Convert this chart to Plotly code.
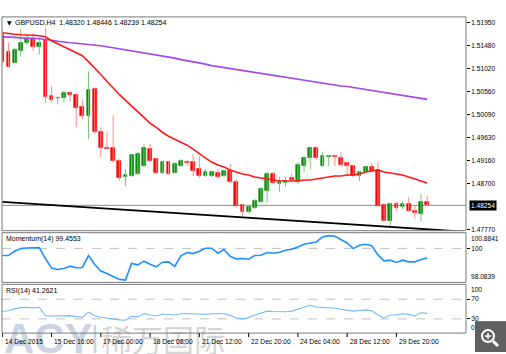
import plotly.graph_objects as go

W, H = 506, 354

# ---------------- data ----------------
opens = [1.51702, 1.51360, 1.51139, 1.51380, 1.51541, 1.51621, 1.51460, 1.51601, 1.50475, 1.50425,
         1.50435, 1.50536, 1.50496, 1.50234, 1.50053, 1.50616, 1.49732, 1.49420, 1.49410, 1.49149,
         1.48827, 1.48847, 1.48888, 1.49048, 1.49390, 1.49189, 1.48908, 1.49129, 1.48908, 1.49048,
         1.49129, 1.49129, 1.48988, 1.48847, 1.48847, 1.48908, 1.48847, 1.48948, 1.48727, 1.48264,
         1.48124, 1.48204, 1.48325, 1.48546, 1.48888, 1.48687, 1.48707, 1.48807, 1.48727, 1.49048,
         1.49209, 1.49410, 1.49048, 1.49229, 1.49249, 1.49209, 1.49109, 1.49048, 1.48847, 1.48928,
         1.49028, 1.48968, 1.48264, 1.47943, 1.48284, 1.48224, 1.48284, 1.48144, 1.48084, 1.48320]
highs = [1.51802, 1.51541, 1.51440, 1.51822, 1.51702, 1.51742, 1.51641, 1.51842, 1.50656, 1.50455,
         1.50576, 1.50556, 1.50516, 1.50395, 1.50958, 1.50636, 1.49832, 1.49732, 1.50073, 1.49189,
         1.48988, 1.49290, 1.49330, 1.49491, 1.49491, 1.49209, 1.49149, 1.49149, 1.49129, 1.49189,
         1.49169, 1.49290, 1.49249, 1.48988, 1.48948, 1.48988, 1.48968, 1.49089, 1.48787, 1.48284,
         1.48244, 1.48385, 1.48626, 1.48928, 1.48928, 1.48827, 1.48827, 1.48888, 1.49129, 1.49249,
         1.49430, 1.49450, 1.49330, 1.49270, 1.49270, 1.49330, 1.49129, 1.49069, 1.48948, 1.49048,
         1.49109, 1.49129, 1.48284, 1.48305, 1.48325, 1.48345, 1.48425, 1.48244, 1.48485, 1.48446]
lows = [1.51139, 1.51038, 1.51119, 1.51259, 1.51500, 1.51380, 1.51300, 1.50315, 1.50335, 1.50295,
        1.50335, 1.50355, 1.49832, 1.49993, 1.49591, 1.49692, 1.49229, 1.49390, 1.49129, 1.48747,
        1.48646, 1.48827, 1.48867, 1.49028, 1.49129, 1.48888, 1.48888, 1.48867, 1.48888, 1.49028,
        1.49048, 1.48847, 1.48807, 1.48827, 1.48827, 1.48787, 1.48827, 1.48707, 1.48224, 1.48043,
        1.48104, 1.48184, 1.48305, 1.48305, 1.48687, 1.48526, 1.48626, 1.48727, 1.48687, 1.48928,
        1.48988, 1.49169, 1.49028, 1.49048, 1.49048, 1.49048, 1.48847, 1.48827, 1.48747, 1.48908,
        1.48928, 1.48224, 1.47923, 1.47842, 1.48144, 1.48184, 1.48124, 1.47983, 1.47923, 1.48239]
closes = [1.51159, 1.51058, 1.51400, 1.51541, 1.51621, 1.51460, 1.51541, 1.50456, 1.50395, 1.50435,
          1.50536, 1.50496, 1.50214, 1.50053, 1.50596, 1.49732, 1.49410, 1.49400, 1.49149, 1.48807,
          1.48867, 1.49269, 1.49290, 1.49410, 1.49149, 1.48908, 1.49129, 1.48888, 1.49088, 1.49149,
          1.49109, 1.48948, 1.48847, 1.48928, 1.48928, 1.48827, 1.48948, 1.48727, 1.48245, 1.48124,
          1.48224, 1.48345, 1.48586, 1.48888, 1.48707, 1.48727, 1.48747, 1.48767, 1.49069, 1.49209,
          1.49410, 1.49209, 1.49249, 1.49249, 1.49229, 1.49069, 1.49048, 1.48847, 1.48928, 1.49028,
          1.48948, 1.48245, 1.47943, 1.48284, 1.48204, 1.48284, 1.48144, 1.48104, 1.48325, 1.48254]

ma_fast = [1.51742, 1.51722, 1.51712, 1.51702, 1.51702, 1.51691, 1.51681, 1.51661, 1.51581, 1.51521,
           1.51460, 1.51400, 1.51340, 1.51279, 1.51159, 1.51038, 1.50898, 1.50757, 1.50616, 1.50496,
           1.50375, 1.50254, 1.50134, 1.50033, 1.49913, 1.49832, 1.49732, 1.49651, 1.49591, 1.49531,
           1.49470, 1.49390, 1.49290, 1.49209, 1.49129, 1.49069, 1.49028, 1.48968, 1.48928, 1.48888,
           1.48867, 1.48827, 1.48807, 1.48787, 1.48767, 1.48747, 1.48747, 1.48747, 1.48747, 1.48767,
           1.48767, 1.48787, 1.48807, 1.48827, 1.48847, 1.48847, 1.48867, 1.48867, 1.48888, 1.48928,
           1.48948, 1.48968, 1.48928, 1.48908, 1.48888, 1.48867, 1.48827, 1.48787, 1.48747, 1.48707]
ma_slow = [1.51661, 1.51661, 1.51651, 1.51641, 1.51641, 1.51631, 1.51621, 1.51611, 1.51591, 1.51571,
           1.51551, 1.51541, 1.51531, 1.51521, 1.51511, 1.51500, 1.51480, 1.51460, 1.51440, 1.51420,
           1.51390, 1.51370, 1.51350, 1.51330, 1.51310, 1.51289, 1.51269, 1.51249, 1.51229, 1.51199,
           1.51179, 1.51159, 1.51139, 1.51109, 1.51078, 1.51058, 1.51038, 1.51018, 1.50998, 1.50978,
           1.50958, 1.50938, 1.50918, 1.50898, 1.50877, 1.50857, 1.50837, 1.50817, 1.50797, 1.50777,
           1.50757, 1.50737, 1.50717, 1.50707, 1.50687, 1.50667, 1.50656, 1.50636, 1.50616, 1.50596,
           1.50576, 1.50556, 1.50536, 1.50516, 1.50496, 1.50475, 1.50455, 1.50435, 1.50415, 1.50395]

momentum = [99.596, 99.596, 99.839, 99.988, 100.025, 100.025, 100.044, 99.428, 98.887, 98.812,
            98.868, 98.999, 98.905, 98.924, 99.596, 99.092, 98.719, 98.588, 98.401, 98.252,
            98.215, 99.148, 99.073, 99.279, 99.111, 98.961, 99.223, 99.241, 98.980, 99.577,
            99.764, 99.708, 99.839, 100.007, 100.007, 99.727, 99.932, 99.559, 99.409, 99.428,
            99.391, 99.596, 99.615, 99.764, 99.727, 99.783, 99.895, 99.951, 100.081, 100.231,
            100.305, 100.361, 100.641, 100.716, 100.679, 100.473, 100.305, 99.988, 100.175, 100.231,
            100.156, 99.633, 99.297, 99.335, 99.204, 99.335, 99.241, 99.241, 99.372, 99.4553]
rsi = [45.08, 46.39, 50.33, 52.95, 53.61, 52.29, 53.61, 36.56, 35.90, 36.56,
       36.56, 36.56, 34.59, 33.28, 43.77, 36.56, 33.28, 31.31, 29.34, 28.03,
       27.38, 35.24, 34.59, 40.49, 37.87, 35.90, 39.83, 38.52, 37.87, 40.49,
       41.15, 40.49, 39.83, 39.18, 40.49, 39.83, 40.49, 37.21, 31.97, 30.00,
       32.62, 37.87, 42.46, 45.74, 45.08, 44.42, 44.42, 45.74, 49.67, 54.92,
       57.54, 54.26, 53.61, 53.61, 51.64, 49.67, 47.70, 45.74, 47.05, 48.36,
       46.39, 37.87, 31.97, 37.87, 37.87, 40.49, 39.18, 35.90, 42.46, 41.2621]

trend_x = [0, 75]
trend_y = [1.48325, 1.47722]
bid_price = 1.48254

price_ticks = [1.51950, 1.51480, 1.51020, 1.50560, 1.50090, 1.49630, 1.49160, 1.48700, 1.47770]
mom_range = [98.0839, 100.8841]
mom_levels = [100]
rsi_levels = [70, 30]

time_tick_idx = [0, 8, 16, 24, 32, 40, 48, 56, 64]
time_tick_labels = ["14 Dec 2015", "15 Dec 16:00", "17 Dec 00:00", "18 Dec 08:00", "21 Dec 12:00",
                    "22 Dec 20:00", "24 Dec 04:00", "28 Dec 12:00", "29 Dec 20:00"]

header = "GBPUSD,H4  1.48320 1.48446 1.48239 1.48254"
mom_title = "Momentum(14) 99.4553"
rsi_title = "RSI(14) 41.2621"

# ---------------- helpers ----------------
def px(x):
    return x / W

def py(y):
    return 1 - y / H

FONT = "Liberation Sans, Arial, sans-serif"
UP, DN = "#0b8a0b", "#ff0000"
UP_W, DN_W = "#7cc47c", "#ff8c8c"

idx = list(range(len(opens)))
fig = go.Figure()

# wicks
for up in (True, False):
    xs, ys = [], []
    for i in idx:
        if (closes[i] >= opens[i]) == up:
            xs += [i, i, None]
            ys += [lows[i], highs[i], None]
    fig.add_trace(go.Scatter(x=xs, y=ys, mode="lines", line=dict(color=UP_W if up else DN_W, width=1),
                             hoverinfo="skip", showlegend=False, xaxis="x", yaxis="y"))

# bodies
base = [min(o, c) for o, c in zip(opens, closes)]
height = [max(abs(c - o), 0.00001) for o, c in zip(opens, closes)]
cols = [UP if c >= o else DN for o, c in zip(opens, closes)]
fig.add_trace(go.Bar(x=idx, y=height, base=base, width=0.62, marker=dict(color=cols, line=dict(color=cols, width=0.6)),
                     showlegend=False, xaxis="x", yaxis="y"))

fig.add_trace(go.Scatter(x=idx, y=ma_slow, mode="lines", line=dict(color="#a346f0", width=1.7),
                         showlegend=False, xaxis="x", yaxis="y"))
fig.add_trace(go.Scatter(x=idx, y=ma_fast, mode="lines", line=dict(color="#ff1a1a", width=1.6),
                         showlegend=False, xaxis="x", yaxis="y"))
fig.add_trace(go.Scatter(x=trend_x, y=trend_y, mode="lines", line=dict(color="#000000", width=1.8),
                         showlegend=False, xaxis="x", yaxis="y"))

fig.add_trace(go.Scatter(x=idx, y=momentum, mode="lines", line=dict(color="#1e90ff", width=1.6),
                         showlegend=False, xaxis="x2", yaxis="y2"))
fig.add_trace(go.Scatter(x=idx, y=rsi, mode="lines", line=dict(color="#74b9ff", width=1.1),
                         showlegend=False, xaxis="x3", yaxis="y3"))

XL, XR = 2, 466
MAIN = (17, 232)
MOM = (234, 284)
RSIP = (286, 335)
xr = [-0.05, 75.3]
xdom = [px(XL), px(XR)]
tickfont = dict(family=FONT, size=6.6, color="#000000")

common_x = dict(domain=xdom, range=xr, showticklabels=False, showgrid=False, zeroline=False, showline=False, ticks="")
fig.update_layout(
    width=W, height=H, margin=dict(l=0, r=0, t=0, b=0),
    paper_bgcolor="white", plot_bgcolor="white", bargap=0, barmode="overlay",
    xaxis=dict(**common_x, anchor="y"),
    xaxis2=dict(**common_x, anchor="y2", matches="x"),
    xaxis3=dict(**common_x, anchor="y3", matches="x"),
    yaxis=dict(domain=[py(MAIN[1]), py(MAIN[0])], range=[1.47742, 1.52063], side="right", anchor="x",
               tickvals=price_ticks, ticktext=[f"{v:.5f}" for v in price_ticks], ticks="outside", ticklen=3,
               tickcolor="#000", tickfont=tickfont, showgrid=False, zeroline=False, showline=False),
    yaxis2=dict(domain=[py(MOM[1]), py(MOM[0])], range=mom_range, side="right", anchor="x2",
                tickvals=mom_levels, ticktext=["100"], ticks="outside", ticklen=3, tickcolor="#000",
                tickfont=tickfont, showgrid=False, zeroline=False, showline=False),
    yaxis3=dict(domain=[py(RSIP[1]), py(RSIP[0])], range=[1.2, 100], side="right", anchor="x3",
                tickvals=rsi_levels, ticktext=[str(v) for v in rsi_levels], ticks="outside", ticklen=3,
                tickcolor="#000", tickfont=tickfont, showgrid=False, zeroline=False, showline=False),
    showlegend=False,
)

shapes = []
# panel frames
for top, bot in (MAIN, MOM, RSIP):
    shapes.append(dict(type="rect", xref="paper", yref="paper", x0=px(XL), x1=px(XR), y0=py(bot), y1=py(top),
                       line=dict(color="#7a7a7a", width=1), layer="above"))
# bid line
shapes.append(dict(type="line", xref="paper", yref="y", x0=px(XL), x1=px(XR), y0=bid_price, y1=bid_price,
                   line=dict(color="#8c8c8c", width=1), layer="below"))
# indicator levels
for lv in mom_levels:
    shapes.append(dict(type="line", xref="paper", yref="y2", x0=px(XL), x1=px(XR), y0=lv, y1=lv,
                       line=dict(color="#c0c0c0", width=1, dash="dash"), layer="below"))
for lv in rsi_levels:
    shapes.append(dict(type="line", xref="paper", yref="y3", x0=px(XL), x1=px(XR), y0=lv, y1=lv,
                       line=dict(color="#c0c0c0", width=1, dash="dash"), layer="below"))
# time tick marks
for t in time_tick_idx:
    shapes.append(dict(type="line", xref="x3", yref="paper", x0=t, x1=t, y0=py(RSIP[1]), y1=py(RSIP[1] + 4),
                       line=dict(color="#000", width=1)))

# zoom icon
shapes.append(dict(type="rect", xref="paper", yref="paper", x0=px(475), x1=px(506), y0=py(354), y1=py(323),
                   fillcolor="#606060", line=dict(width=0)))
shapes.append(dict(type="circle", xref="paper", yref="paper", x0=px(482), x1=px(494), y0=py(344), y1=py(332),
                   line=dict(color="white", width=2)))
shapes.append(dict(type="line", xref="paper", yref="paper", x0=px(488), x1=px(488), y0=py(341), y1=py(335),
                   line=dict(color="white", width=1.5)))
shapes.append(dict(type="line", xref="paper", yref="paper", x0=px(485), x1=px(491), y0=py(338), y1=py(338),
                   line=dict(color="white", width=1.5)))
shapes.append(dict(type="line", xref="paper", yref="paper", x0=px(493), x1=px(498), y0=py(343), y1=py(348),
                   line=dict(color="white", width=3)))
fig.update_layout(shapes=shapes)

ann = []
# watermark first so that later text draws on top
ann.append(dict(text="<b>ACY</b>", x=px(2), y=py(340), xref="paper", yref="paper", xanchor="left", yanchor="middle",
                showarrow=False, opacity=0.38, font=dict(family="Liberation Sans", size=42, color="#7890b4")))
ann.append(dict(text="|", x=px(89), y=py(338), xref="paper", yref="paper", xanchor="left", yanchor="middle",
                showarrow=False, opacity=0.38, font=dict(family="Liberation Sans", size=30, color="#7890b4")))
ann.append(dict(text="稀万国际", x=px(99), y=py(340), xref="paper", yref="paper", xanchor="left", yanchor="middle",
                showarrow=False, opacity=0.32, font=dict(family="Noto Sans CJK SC", size=31, color="#808080")))

ann.append(dict(text="▼", x=px(5), y=py(23), xref="paper", yref="paper", xanchor="left", yanchor="middle",
                showarrow=False, font=dict(family="DejaVu Sans", size=6, color="#000")))
ann.append(dict(text=header, x=px(12.5), y=py(23), xref="paper", yref="paper", xanchor="left", yanchor="middle",
                showarrow=False, font=dict(family=FONT, size=7, color="#000")))
ann.append(dict(text=mom_title, x=px(4), y=py(240), xref="paper", yref="paper", xanchor="left", yanchor="middle",
                showarrow=False, font=dict(family=FONT, size=7, color="#000")))
ann.append(dict(text=rsi_title, x=px(4), y=py(293), xref="paper", yref="paper", xanchor="left", yanchor="middle",
                showarrow=False, font=dict(family=FONT, size=7, color="#000")))
# bid price box
ann.append(dict(text=f"{bid_price:.5f}", x=px(468.5), y=bid_price, xref="paper", yref="y", xanchor="left",
                yanchor="middle", showarrow=False, bgcolor="#000000", borderpad=1,
                font=dict(family=FONT, size=6.6, color="#ffffff")))
# indicator edge labels
ann.append(dict(text=f"{mom_range[1]:.4f}", x=px(469), y=py(MOM[0]), xref="paper", yref="paper", xanchor="left",
                yanchor="top", showarrow=False, font=tickfont))
ann.append(dict(text=f"{mom_range[0]:.4f}", x=px(469), y=py(MOM[1]), xref="paper", yref="paper", xanchor="left",
                yanchor="bottom", showarrow=False, font=tickfont))
ann.append(dict(text="100", x=px(469), y=py(RSIP[0]), xref="paper", yref="paper", xanchor="left",
                yanchor="top", showarrow=False, font=tickfont))
ann.append(dict(text="0", x=px(469), y=py(RSIP[1]), xref="paper", yref="paper", xanchor="left",
                yanchor="bottom", showarrow=False, font=tickfont))
# time labels
for t, lab in zip(time_tick_idx, time_tick_labels):
    ann.append(dict(text=lab, x=t, y=py(343), xref="x3", yref="paper", xanchor="left", yanchor="middle",
                    xshift=0.5, showarrow=False, font=dict(family=FONT, size=6.7, color="#000")))
fig.update_layout(annotations=ann)

fig.write_html("out.html")
